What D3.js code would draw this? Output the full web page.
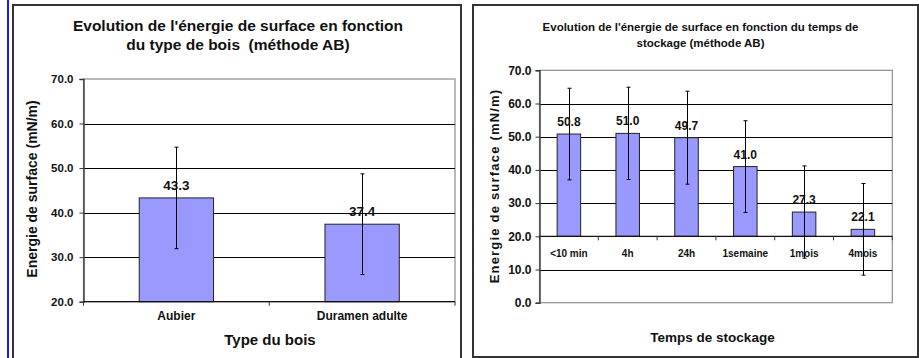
<!DOCTYPE html>
<html>
<head>
<meta charset="utf-8">
<script src="https://cdn.jsdelivr.net/npm/d3@7"></script>
<style>
  body { margin: 0; background: #fff; }
  svg { display: block; }
  text { white-space: pre; }
</style>
</head>
<body>
<div id="chart"></div>
<script>
"use strict";

// left chart : type du bois
const woodTypes = ["Aubier", "Duramen adulte"];
const woodValues = [43.3, 37.4];
const woodErrors = [11.4, 11.3];
const woodTicks = [20, 30, 40, 50, 60, 70];

// right chart : temps de stockage
const storageTimes = ["<10 min", "4h", "24h", "1semaine", "1mois", "4mois"];
const storageValues = [50.8, 51.0, 49.7, 41.0, 27.3, 22.1];
const storageErrors = [13.8, 13.9, 14.0, 13.8, 13.9, 13.8];
const storageTicks = [0, 10, 20, 30, 40, 50, 60, 70];

const W = 919;
const H = 358;
const barFill = "#9999ff";
const narrow = "'Liberation Sans Narrow', 'Arial Narrow', 'Liberation Sans', Arial, sans-serif";
const wide = "'Liberation Sans', Arial, sans-serif";

const svg = d3
  .select("#chart")
  .append("svg")
  .attr("width", W)
  .attr("height", H);

svg.append("rect").attr("width", W).attr("height", H).attr("fill", "#fff");

// blue margin line on the left
svg
  .append("line")
  .attr("x1", 8)
  .attr("x2", 8)
  .attr("y1", 0)
  .attr("y2", H)
  .attr("stroke", "#1a1aff")
  .attr("stroke-width", 2);

const drawChart = function (cfg) {
  const g = svg.append("g");

  // frame of the chart object
  g.append("rect")
    .attr("x", cfg.box[0])
    .attr("y", cfg.box[1])
    .attr("width", cfg.box[2])
    .attr("height", cfg.box[3])
    .attr("fill", "#fff")
    .attr("stroke", "#333")
    .attr("stroke-width", 2);

  const x = d3
    .scaleBand()
    .domain(cfg.cats)
    .range([cfg.plot[0], cfg.plot[1]])
    .paddingInner(0.6)
    .paddingOuter(0.3);

  const y = d3
    .scaleLinear()
    .domain([d3.min(cfg.ticks), d3.max(cfg.ticks)])
    .range([cfg.plot[3], cfg.plot[2]]);

  const base = cfg.base;
  const tMin = d3.min(cfg.ticks);
  const tMax = d3.max(cfg.ticks);

  // plot area border (gray)
  g.append("rect")
    .attr("x", cfg.plot[0])
    .attr("y", y(tMax))
    .attr("width", cfg.plot[1] - cfg.plot[0])
    .attr("height", y(tMin) - y(tMax))
    .attr("fill", "none")
    .attr("stroke", "#8c8c8c")
    .attr("stroke-width", 1.2);

  // gridlines
  g.selectAll(".grid")
    .data(cfg.ticks.filter((t) => t !== tMin && t !== tMax && t !== base))
    .enter()
    .append("line")
    .attr("x1", cfg.plot[0])
    .attr("x2", cfg.plot[1])
    .attr("y1", (d) => Math.round(y(d)) + 0.5)
    .attr("y2", (d) => Math.round(y(d)) + 0.5)
    .attr("stroke", "#000")
    .attr("stroke-width", 1);

  // bars
  g.selectAll(".bar")
    .data(cfg.values)
    .enter()
    .append("rect")
    .attr("x", (d, i) => x(cfg.cats[i]))
    .attr("y", (d) => y(d))
    .attr("width", x.bandwidth())
    .attr("height", (d) => y(base) - y(d))
    .attr("fill", barFill)
    .attr("stroke", "#222")
    .attr("stroke-width", 1);

  // y axis
  const yAxis = d3
    .axisLeft(y)
    .tickValues(cfg.ticks)
    .tickSize(4)
    .tickPadding(cfg.tickPad)
    .tickFormat(d3.format(".1f"));
  const ya = g
    .append("g")
    .attr("transform", `translate(${cfg.plot[0]},0)`)
    .call(yAxis);
  ya.select(".domain").attr("stroke", "#444").attr("stroke-width", 1.5);
  ya.selectAll(".tick line").attr("stroke", "#333");
  ya.selectAll("text")
    .attr("font-family", cfg.font)
    .attr("font-size", cfg.tickSize)
    .attr("font-weight", "bold")
    .attr("fill", "#111");

  // category axis (crosses at base)
  const xb = d3
    .scaleLinear()
    .domain([0, cfg.cats.length])
    .range([cfg.plot[0], cfg.plot[1]]);
  const xa = g.append("g");
  xa.append("line")
    .attr("x1", cfg.plot[0])
    .attr("x2", cfg.plot[1])
    .attr("y1", y(base))
    .attr("y2", y(base))
    .attr("stroke", "#111")
    .attr("stroke-width", 1.3);
  xa.selectAll(".xt")
    .data(d3.range(cfg.cats.length + 1))
    .enter()
    .append("line")
    .attr("x1", (d) => xb(d))
    .attr("x2", (d) => xb(d))
    .attr("y1", y(base))
    .attr("y2", y(base) + 4)
    .attr("stroke", "#333");
  xa.selectAll(".xl")
    .data(cfg.cats)
    .enter()
    .append("text")
    .text((d) => d)
    .attr("x", (d) => x(d) + x.bandwidth() / 2)
    .attr("y", y(base) + cfg.catDy)
    .attr("text-anchor", "middle")
    .attr("font-family", cfg.font)
    .attr("font-size", cfg.catSize)
    .attr("font-weight", "bold")
    .attr("fill", "#111");

  // error bars
  const eb = g
    .selectAll(".err")
    .data(cfg.values)
    .enter()
    .append("g")
    .attr("stroke", "#000")
    .attr("stroke-width", 1);
  const cx = (i) => Math.round(x(cfg.cats[i]) + x.bandwidth() / 2) + 0.5;
  eb.append("line")
    .attr("x1", (d, i) => cx(i))
    .attr("x2", (d, i) => cx(i))
    .attr("y1", (d, i) => y(d + cfg.errors[i]))
    .attr("y2", (d, i) => y(d - cfg.errors[i]));
  eb.append("line")
    .attr("x1", (d, i) => cx(i) - 2)
    .attr("x2", (d, i) => cx(i) + 2)
    .attr("y1", (d, i) => y(d + cfg.errors[i]))
    .attr("y2", (d, i) => y(d + cfg.errors[i]));
  eb.append("line")
    .attr("x1", (d, i) => cx(i) - 2)
    .attr("x2", (d, i) => cx(i) + 2)
    .attr("y1", (d, i) => y(d - cfg.errors[i]))
    .attr("y2", (d, i) => y(d - cfg.errors[i]));

  // value labels
  g.selectAll(".val")
    .data(cfg.values)
    .enter()
    .append("text")
    .text((d) => d3.format(".1f")(d))
    .attr("x", (d, i) => x(cfg.cats[i]) + x.bandwidth() / 2)
    .attr("y", (d) => y(d) - 8)
    .attr("text-anchor", "middle")
    .attr("font-family", cfg.font)
    .attr("font-size", cfg.valSize)
    .attr("font-weight", "bold")
    .attr("fill", "#111");

  // titles
  const title = g
    .append("text")
    .attr("text-anchor", "middle")
    .attr("font-family", cfg.font)
    .attr("font-size", cfg.titleSize)
    .attr("font-weight", "bold")
    .attr("fill", "#111");
  cfg.title.forEach((line, i) => {
    title
      .append("tspan")
      .attr("x", cfg.titleX)
      .attr("y", cfg.titleY + i * cfg.titleLead)
      .text(line);
  });

  g.append("text")
    .text(cfg.xTitle)
    .attr("x", cfg.xTitleX)
    .attr("y", cfg.xTitleY)
    .attr("text-anchor", "middle")
    .attr("font-family", cfg.font)
    .attr("font-size", cfg.xTitleSize)
    .attr("font-weight", "bold")
    .attr("fill", "#111");

  g.append("text")
    .text(cfg.yTitle)
    .attr("transform", `translate(${cfg.yTitleX},${cfg.yTitleY}) rotate(-90)`)
    .attr("text-anchor", "middle")
    .attr("font-family", cfg.font)
    .attr("font-size", cfg.yTitleSize)
    .attr("font-weight", "bold")
    .attr("letter-spacing", cfg.yTitleSpacing)
    .attr("fill", "#111");
};

drawChart({
  box: [13, 5, 448, 362],
  plot: [83.5, 455, 79, 301.7],
  cats: woodTypes,
  values: woodValues,
  errors: woodErrors,
  ticks: woodTicks,
  base: 20,
  font: wide,
  tickSize: 11.5,
  tickPad: 6,
  catSize: 12,
  catDy: 18.5,
  valSize: 13.5,
  title: ["Evolution de l'énergie de surface en fonction", "du type de bois  (méthode AB)"],
  titleX: 238,
  titleY: 31,
  titleLead: 18.5,
  titleSize: 15.5,
  xTitle: "Type du bois",
  xTitleX: 270,
  xTitleY: 345,
  xTitleSize: 15,
  yTitle: "Energie de surface (mN/m)",
  yTitleX: 37,
  yTitleY: 189,
  yTitleSize: 14,
  yTitleSpacing: 0,
});

drawChart({
  box: [473, 5, 445, 352],
  plot: [539.5, 892.3, 70.3, 302.7],
  cats: storageTimes,
  values: storageValues,
  errors: storageErrors,
  ticks: storageTicks,
  base: 20,
  font: narrow,
  tickSize: 12,
  tickPad: 4,
  catSize: 10,
  catDy: 21,
  valSize: 12,
  title: ["Evolution de l'énergie de surface en fonction du temps de", "stockage (méthode AB)"],
  titleX: 700.5,
  titleY: 31,
  titleLead: 16,
  titleSize: 11.5,
  xTitle: "Temps de stockage",
  xTitleX: 712.5,
  xTitleY: 341.5,
  xTitleSize: 13.5,
  yTitle: "Energie de surface (mN/m)",
  yTitleX: 499,
  yTitleY: 186,
  yTitleSize: 13,
  yTitleSpacing: 1.2,
});
</script>
</body>
</html>
